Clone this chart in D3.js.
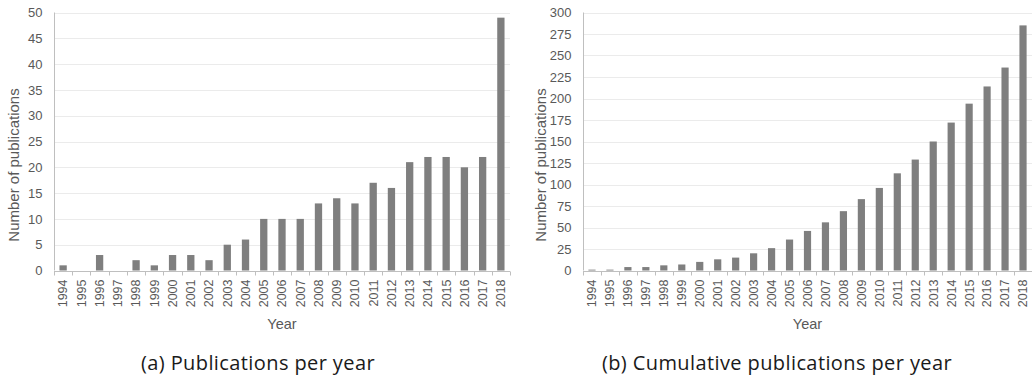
<!DOCTYPE html>
<html>
<head>
<meta charset="utf-8">
<script src="https://cdn.jsdelivr.net/npm/d3@7"></script>
<style>
  html, body { margin: 0; padding: 0; background: #fff; }
  svg { display: block; }
</style>
</head>
<body>
<svg id="chart" width="1032" height="382"></svg>
<script>
// Publication counts, 1994–2018
const years = ["1994","1995","1996","1997","1998","1999","2000","2001","2002","2003","2004","2005",
               "2006","2007","2008","2009","2010","2011","2012","2013","2014","2015","2016","2017","2018"];
const perYear = [1,0,3,0,2,1,3,3,2,5,6,10,10,10,13,14,13,17,16,21,22,22,20,22,49];
const cumulative = [1,1,4,4,6,7,10,13,15,20,26,36,46,56,69,83,96,113,129,150,172,194,214,236,285];
const ticksA = [0,5,10,15,20,25,30,35,40,45,50];
const ticksB = [0,25,50,75,100,125,150,175,200,225,250,275,300];

const svg = d3.select("#chart");
const AXIS_FONT = "'Liberation Sans', Arial, sans-serif";
const CAPTION_FONT = "'Open Sans', Lato, sans-serif";

function panel(values, yTicks, left, right, titleX, captionX, caption) {
  const top = 12.5, bottom = 270.5;
  const g = svg.append("g");

  const x = d3.scaleBand().domain(years).range([left, right])
    .paddingInner(0.6).paddingOuter(0.3);
  const y = d3.scaleLinear().domain([0, yTicks[yTicks.length - 1]]).range([bottom, top]);

  // horizontal gridlines
  g.append("g").selectAll("line").data(yTicks.slice(1)).join("line")
    .attr("x1", left).attr("x2", right)
    .attr("y1", d => Math.round(y(d)) + 0.5).attr("y2", d => Math.round(y(d)) + 0.5)
    .attr("stroke", "#ebebeb").attr("stroke-width", 1);

  // bars
  g.append("g").selectAll("rect").data(values).join("rect")
    .attr("x", (d, i) => x(years[i]))
    .attr("width", x.bandwidth())
    .attr("y", d => y(d))
    .attr("height", d => y(0) - y(d))
    .attr("fill", "#7f7f7f");

  // y axis
  const yAxis = g.append("g")
    .attr("transform", `translate(${Math.round(left) + 0.5},0)`)
    .call(d3.axisLeft(y).tickValues(yTicks).tickSize(0).tickPadding(12));
  yAxis.select(".domain").attr("stroke", "#bfbfbf").attr("d", `M0,${top}V${bottom}`);
  yAxis.selectAll("text").attr("fill", "#595959")
    .style("font-family", AXIS_FONT).style("font-size", "13px");

  // x axis with boundary ticks between categories
  const xAxis = g.append("g")
    .attr("transform", `translate(0,${Math.round(bottom) + 0.5})`)
    .call(d3.axisBottom(x).tickSize(0).tickPadding(8));
  xAxis.select(".domain").attr("stroke", "#bfbfbf").attr("d", `M${left},0H${right}`);
  xAxis.selectAll("text")
    .attr("fill", "#595959")
    .style("font-family", AXIS_FONT).style("font-size", "12.5px")
    .attr("transform", "rotate(-90)")
    .attr("text-anchor", "end")
    .attr("x", -8).attr("y", 0).attr("dy", "0.35em");
  const step = x.step();
  xAxis.append("g").selectAll("line").data(d3.range(years.length + 1)).join("line")
    .attr("x1", i => Math.round(left + i * step) + 0.5)
    .attr("x2", i => Math.round(left + i * step) + 0.5)
    .attr("y1", 0).attr("y2", 4)
    .attr("stroke", "#bfbfbf");

  // axis titles
  g.append("text")
    .attr("x", (left + right) / 2).attr("y", 329)
    .attr("text-anchor", "middle")
    .attr("fill", "#595959")
    .style("font-family", AXIS_FONT).style("font-size", "14.5px")
    .text("Year");

  g.append("text")
    .attr("transform", `translate(${titleX},165) rotate(-90)`)
    .attr("text-anchor", "middle")
    .attr("dy", "0.35em")
    .attr("fill", "#595959")
    .style("font-family", AXIS_FONT).style("font-size", "15px")
    .text("Number of publications");

  // caption
  svg.append("text")
    .attr("x", captionX).attr("y", 370)
    .attr("text-anchor", "middle")
    .attr("fill", "#1a1a1a")
    .style("font-family", CAPTION_FONT).style("font-size", "20px")
    .style("letter-spacing", "0.4px")
    .text(caption);
}

panel(perYear, ticksA, 54, 510, 14, 258, "(a) Publications per year");
panel(cumulative, ticksB, 583, 1032, 541, 777, "(b) Cumulative publications per year");
</script>
</body>
</html>
